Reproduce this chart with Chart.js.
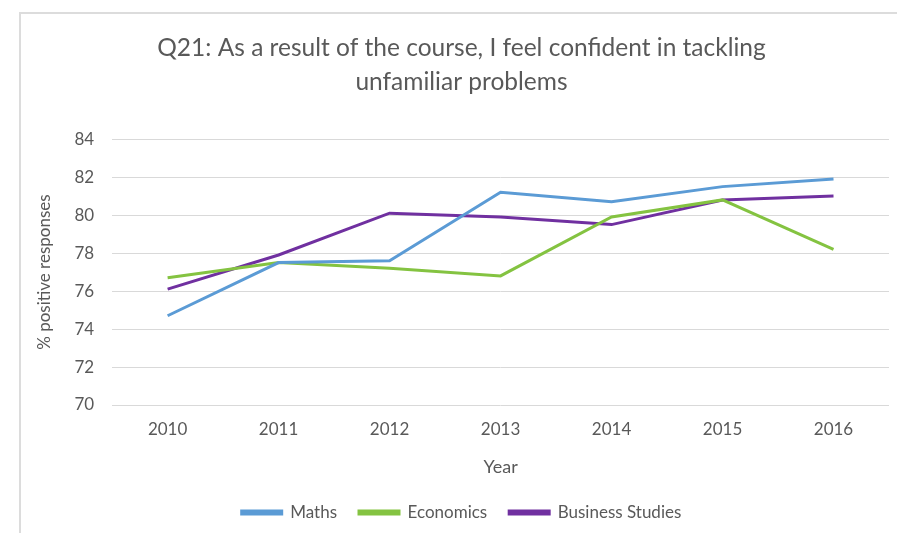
<!DOCTYPE html>
<html>
<head>
<meta charset="utf-8">
<script src="https://cdn.jsdelivr.net/npm/chart.js@4"></script>
<style>
  body { margin: 0; background: #fff; }
  #frame {
    position: absolute; left: 19px; top: 12px; width: 900px; height: 540px;
    border-left: 2px solid #dcdcdc; border-top: 2px solid #dcdcdc;
  }
  #wrap { position: absolute; left: 20px; top: 13px; width: 893px; height: 520px; }
</style>
</head>
<body>
<div id="frame"></div>
<div id="wrap"><canvas id="chart"></canvas></div>
<script>
const years = ["2010", "2011", "2012", "2013", "2014", "2015", "2016"];
const maths = [74.7, 77.5, 77.6, 81.2, 80.7, 81.5, 81.9];
const economics = [76.7, 77.5, 77.2, 76.8, 79.9, 80.8, 78.2];
const business = [76.1, 77.9, 80.1, 79.9, 79.5, 80.8, 81.0];

const grey = "#595959";
const font = "Lato, 'Open Sans', sans-serif";

line_chart();
function line_chart() {
    const ctx = document.getElementById("chart").getContext("2d");

    const ds = (label, data, color) => ({
        label: label,
        data: data,
        borderColor: color,
        backgroundColor: color,
        borderWidth: 3,
        pointRadius: 0,
        tension: 0,
    });

    new Chart(ctx, {
        type: "line",
        data: {
            labels: years,
            datasets: [
                ds("Maths", maths, "#5b9bd5"),
                ds("Economics", economics, "#84c341"),
                ds("Business Studies", business, "#7030a0"),
            ],
        },
        options: {
            responsive: true,
            maintainAspectRatio: false,
            animation: false,
            layout: { padding: { left: 14, right: 24, top: 0, bottom: 2 } },
            plugins: {
                title: {
                    display: true,
                    text: ["Q21: As a result of the course, I feel confident in tackling", "unfamiliar problems"],
                    color: grey,
                    font: { family: font, size: 24.5, weight: "normal", lineHeight: 1.35 },
                    padding: { top: 19, bottom: 41 },
                },
                legend: {
                    position: "bottom",
                    labels: {
                        color: grey,
                        font: { family: font, size: 17 },
                        boxWidth: 40,
                        boxHeight: 3,
                        padding: 22,
                    },
                },
                tooltip: { enabled: false },
            },
            scales: {
                x: {
                    offset: true,
                    grid: { display: false, drawTicks: false },
                    border: { display: false },
                    ticks: { color: grey, font: { family: font, size: 17 }, padding: 14 },
                    title: {
                        display: true,
                        text: "Year",
                        color: grey,
                        font: { family: font, size: 18 },
                        padding: { top: 3, bottom: 4 },
                    },
                },
                y: {
                    min: 70,
                    max: 84,
                    grid: { color: "#d9d9d9", drawTicks: false },
                    border: { display: false },
                    ticks: { stepSize: 2, color: grey, font: { family: font, size: 17 }, padding: 18 },
                    title: {
                        display: true,
                        text: "% positive responses",
                        color: grey,
                        font: { family: font, size: 17 },
                        padding: { top: 0, bottom: 2 },
                    },
                },
            },
        },
    });
}
</script>
</body>
</html>
